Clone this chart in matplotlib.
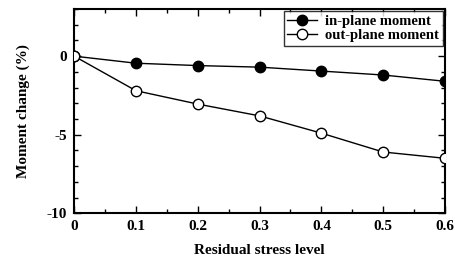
import matplotlib.pyplot as plt
from matplotlib.ticker import MultipleLocator

plt.rcParams['font.family'] = ['Liberation Serif', 'DejaVu Serif']
plt.rcParams['font.weight'] = 'bold'

#%%

# values

stress_level = [0, 0.1, 0.2, 0.3, 0.4, 0.5, 0.6]
in_plane = [0, -0.45, -0.6, -0.7, -0.95, -1.2, -1.6]
out_plane = [0, -2.2, -3.05, -3.8, -4.9, -6.1, -6.5]

#%%

fig, ax = plt.subplots(figsize=(4.55, 2.57), dpi=100)
fig.subplots_adjust(left=0.163, right=0.978, top=0.965, bottom=0.17)

ax.plot(stress_level, in_plane, color='black', lw=1.0, marker='o', ms=7.5,
        mfc='black', mec='black', label='in-plane moment', zorder=3)
ax.plot(stress_level, out_plane, color='black', lw=1.0, marker='o', ms=7.5,
        mfc='white', mec='black', mew=1.0, label='out-plane moment', zorder=3)

ax.set_xlim(0, 0.6)
ax.set_ylim(-10, 3)
ax.xaxis.set_minor_locator(MultipleLocator(0.05))
ax.yaxis.set_minor_locator(MultipleLocator(1))
ax.set_xticks([0, 0.1, 0.2, 0.3, 0.4, 0.5, 0.6])
ax.set_xticklabels(['0', '0.1', '0.2', '0.3', '0.4', '0.5', '0.6'])
ax.set_yticks([0, -5, -10])
ax.set_yticklabels(['0', '-5', '-10'])

ax.tick_params(which='both', direction='in', top=True, right=True,
               labelsize=11, width=1.0)
ax.tick_params(which='major', length=5, pad=5)
ax.tick_params(which='minor', length=3)
for side in ax.spines.values():
    side.set_linewidth(1.5)

ax.set_xlabel('Residual stress level', fontsize=11, fontweight='bold', labelpad=8)
ax.set_ylabel('Moment change (%)', fontsize=11, fontweight='bold', labelpad=12)

leg = ax.legend(loc='upper right', fontsize=10.5, frameon=True, fancybox=False,
                edgecolor='black', handlelength=2.0, borderpad=0.25,
                labelspacing=0.05, borderaxespad=0.15, handletextpad=0.6)
leg.get_frame().set_linewidth(1.0)
for t in leg.get_texts():
    t.set_fontweight('bold')

fig.savefig('out.png')
